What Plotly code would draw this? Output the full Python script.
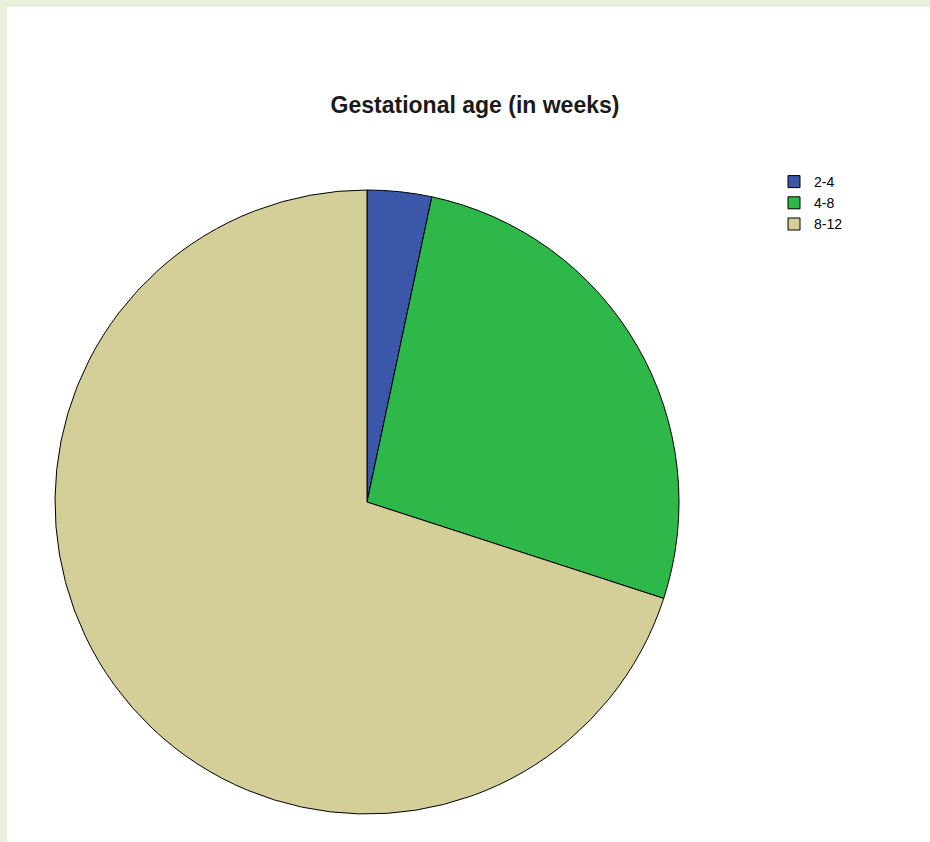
import plotly.graph_objects as go

categories = ["2-4", "4-8", "8-12"]
counts = [1, 8, 21]
colors = ["#3b57aa", "#2eb84a", "#d4cf99"]
title_text = "Gestational age (in weeks)"

W, H = 930, 842

fig = go.Figure()
fig.add_trace(go.Pie(
    labels=categories,
    values=counts,
    sort=False,
    direction="clockwise",
    rotation=0,
    textinfo="none",
    hoverinfo="label+value+percent",
    marker=dict(colors=colors, line=dict(color="#000000", width=1)),
    domain=dict(x=[55 / W, 679 / W], y=[(H - 816) / H, (H - 188) / H]),
))

# light green frame on the top and left edges
fig.add_shape(type="rect", xref="paper", yref="paper",
              x0=0, x1=1, y0=1 - 7 / H, y1=1, fillcolor="#e9f0dc", line_width=0, layer="below")
fig.add_shape(type="rect", xref="paper", yref="paper",
              x0=0, x1=7 / W, y0=0, y1=1, fillcolor="#e9f0dc", line_width=0, layer="below")

fig.update_layout(
    width=W, height=H,
    margin=dict(l=0, r=0, t=0, b=0),
    paper_bgcolor="white",
    plot_bgcolor="white",
    title=dict(text=title_text, x=475 / W, xanchor="center", y=1 - 105 / H, yanchor="middle",
               font=dict(family="Arial", size=23, color="#1a1a1a", weight="bold")),
    legend=dict(x=774 / W, xanchor="left", y=1 - 166 / H, yanchor="top",
                font=dict(family="Arial", size=14, color="#000000"),
                itemwidth=30, tracegroupgap=0, bgcolor="rgba(0,0,0,0)"),
    showlegend=True,
)

fig.write_html("out.html")
